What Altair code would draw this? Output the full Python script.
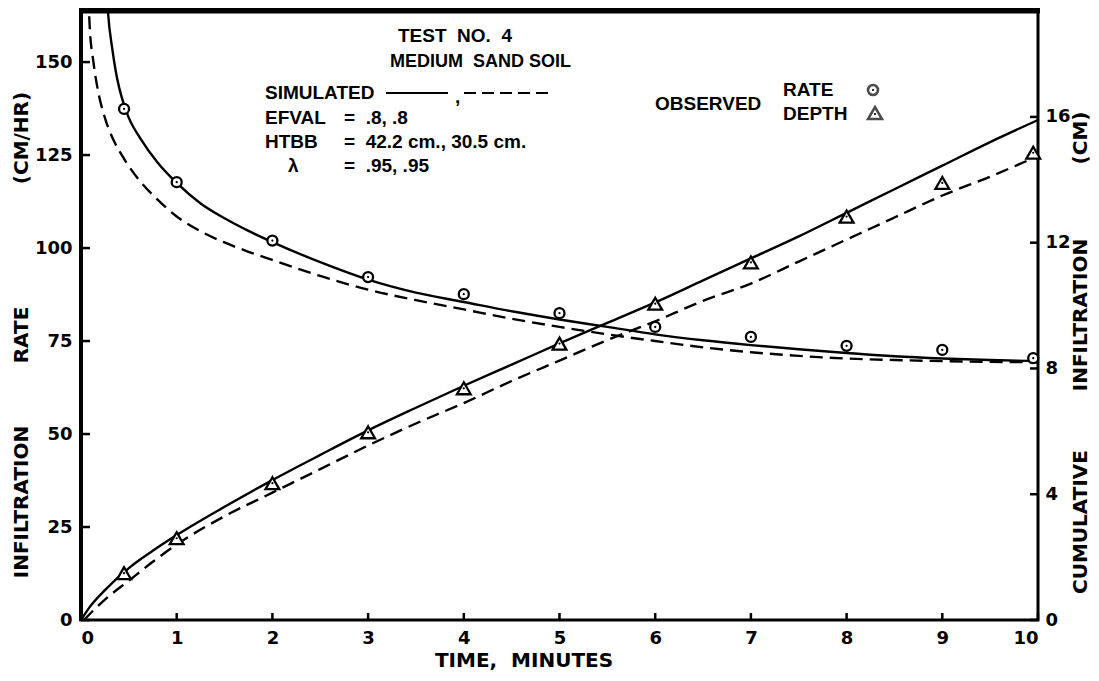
import altair as alt
import pandas as pd

# ---------------- data ----------------
# simulated infiltration rate (cm/hr), solid curve
rate_solid_t = [0.22, 0.25, 0.28, 0.33, 0.36, 0.40, 0.45, 0.50, 0.62, 0.80, 1.00, 1.25, 1.50, 1.75, 2.00, 2.50,
                3.00, 3.50, 4.00, 4.50, 5.00, 5.50, 6.00, 6.50, 7.00, 7.50, 8.00, 8.50, 9.00, 9.50, 10.0]
rate_solid_v = [200, 178, 164, 153, 148, 143, 138.5, 135, 129.5, 123, 117.5, 112, 108, 104.6, 101.6, 96.2,
                91.5, 88, 85.5, 83, 80.8, 78.8, 76.8, 75.2, 73.9, 72.8, 71.8, 70.9, 70.3, 69.9, 69.6]
# simulated infiltration rate, dashed curve
rate_dash_t = [0.05, 0.07, 0.09, 0.13, 0.18, 0.25, 0.35, 0.45, 0.60, 0.80, 1.00, 1.25, 1.50, 1.75,
               2.00, 2.50, 3.00, 3.50, 4.00, 4.50, 5.00, 5.50, 6.00, 6.50, 7.00, 7.50, 8.00, 8.50,
               9.00, 9.50, 10.0]
rate_dash_v = [200, 175, 160, 150, 142, 135, 128.5, 124, 118.5, 113, 108.5, 104.5, 101.5, 99,
               96.8, 92.5, 88.8, 86, 83.5, 81, 78.8, 76.8, 75, 73.3, 72, 71, 70.3, 69.9,
               69.6, 69.4, 69.3]
# simulated cumulative infiltration (cm), solid curve
depth_solid_t = [0.0, 0.10, 0.25, 0.50, 0.75, 1.00, 1.50, 2.00, 2.50, 3.00, 3.50, 4.00, 4.50, 5.00,
                 5.50, 6.00, 6.50, 7.00, 7.50, 8.00, 8.50, 9.00, 9.50, 10.0]
depth_solid_v = [0.0, 0.45, 0.95, 1.65, 2.2, 2.7, 3.6, 4.45, 5.25, 6.03, 6.75, 7.45, 8.12, 8.8,
                 9.45, 10.1, 10.8, 11.5, 12.2, 12.95, 13.7, 14.45, 15.2, 15.9]
# simulated cumulative infiltration, dashed curve
depth_dash_t = [0.03, 0.25, 0.50, 0.75, 1.00, 1.50, 2.00, 2.50, 3.00, 3.50, 4.00, 4.50, 5.00, 5.50,
                6.00, 6.50, 7.00, 7.50, 8.00, 8.50, 9.00, 9.50, 9.92]
depth_dash_v = [0.0, 0.65, 1.25, 1.85, 2.4, 3.3, 4.05, 4.8, 5.55, 6.25, 6.9, 7.6, 8.25, 8.9,
                9.5, 10.15, 10.7, 11.4, 12.1, 12.8, 13.5, 14.1, 14.65]
# observed points
obs_t = [0.45, 1, 2, 3, 4, 5, 6, 7, 8, 9, 9.95]
obs_rate = [137.4, 117.7, 102, 92.2, 87.6, 82.5, 78.8, 76.1, 73.7, 72.6, 70.4]
obs_depth = [1.49, 2.6, 4.35, 5.97, 7.37, 8.79, 10.06, 11.37, 12.83, 13.9, 14.86]
# axis ticks
x_ticks = [0, 1, 2, 3, 4, 5, 6, 7, 8, 9, 10]
rate_ticks = [0, 25, 50, 75, 100, 125, 150]
depth_ticks = [0, 4, 8, 12, 16]
RATE_MAX = 164
DEPTH_MAX = 19.4

# ---------------- chart ----------------
W, H = 957, 610
TICKFONT = "DejaVu Sans"
TXTFONT = "Liberation Sans"
NB = "\u00a0"

xscale = alt.Scale(domain=[0, 10], nice=False, zero=False)
rscale = alt.Scale(domain=[0, RATE_MAX], nice=False)
dscale = alt.Scale(domain=[0, DEPTH_MAX], nice=False)

xaxis = alt.Axis(values=x_ticks, title=None, grid=False, domain=False, ticks=False,
                 labelFont=TICKFONT, labelFontSize=18, labelFontWeight="bold",
                 labelColor="black", labelPadding=9, format="d")
laxis = alt.Axis(values=rate_ticks, title=None, grid=False, domain=False, ticks=False,
                 labelFont=TICKFONT, labelFontSize=18, labelFontWeight="bold",
                 labelColor="black", labelPadding=9, format="d")
raxis = alt.Axis(values=depth_ticks, title=None, grid=False, domain=False, ticks=False,
                 orient="right", labelFont=TICKFONT, labelFontSize=18, labelFontWeight="bold",
                 labelColor="black", labelPadding=7, format="d")

X = alt.X("t:Q", scale=xscale, axis=xaxis)
DASH = [13, 7]

df_rs = pd.DataFrame({"t": rate_solid_t, "v": rate_solid_v})
df_rd = pd.DataFrame({"t": rate_dash_t, "v": rate_dash_v})
df_ds = pd.DataFrame({"t": depth_solid_t, "v": depth_solid_v})
df_dd = pd.DataFrame({"t": depth_dash_t, "v": depth_dash_v})
df_or = pd.DataFrame({"t": obs_t, "v": obs_rate})
df_od = pd.DataFrame({"t": obs_t, "v": obs_depth})
df_xt = pd.DataFrame({"t": x_ticks})
df_rt = pd.DataFrame({"v": rate_ticks})
df_dt = pd.DataFrame({"v": depth_ticks})
dummy = pd.DataFrame({"a": [0]})

YR = alt.Y("v:Q", scale=rscale, axis=laxis)
YD = alt.Y("v:Q", scale=dscale, axis=raxis)

LINE = dict(color="black", strokeWidth=2.4, clip=True, interpolate="monotone")

rate_group = alt.layer(
    alt.Chart(df_rs).mark_line(**LINE).encode(x=X, y=YR),
    alt.Chart(df_rd).mark_line(strokeDash=DASH, **LINE).encode(x=X, y=YR),
    alt.Chart(df_or).mark_point(shape="circle", filled=False, size=100, strokeWidth=2.3,
                                color="black", fill="white", fillOpacity=1).encode(x=X, y=YR),
    alt.Chart(df_or).mark_point(shape="circle", filled=True, size=5, color="black", opacity=1).encode(x=X, y=YR),
    alt.Chart(df_xt).mark_rule(color="black", strokeWidth=2.5).encode(x=X, y=alt.value(H), y2=alt.value(H - 7)),
    alt.Chart(df_rt).mark_rule(color="black", strokeWidth=2.5).encode(y=YR, x=alt.value(0), x2=alt.value(9)),
)

depth_group = alt.layer(
    alt.Chart(df_ds).mark_line(**LINE).encode(x=X, y=YD),
    alt.Chart(df_dd).mark_line(strokeDash=DASH, **LINE).encode(x=X, y=YD),
    alt.Chart(df_od).mark_point(shape="triangle-up", filled=False, size=190, strokeWidth=2.3,
                                color="black", fill="white", fillOpacity=1).encode(x=X, y=YD),
    alt.Chart(df_od).mark_point(shape="circle", filled=True, size=5, color="black", opacity=1).encode(x=X, y=YD),
    alt.Chart(df_dt).mark_rule(color="black", strokeWidth=2.5).encode(y=YD, x=alt.value(W - 8), x2=alt.value(W)),
)


def txt(s, x, y, size=19, weight="bold", font=TXTFONT, align="left", angle=0):
    return alt.Chart(dummy).mark_text(
        text=s, align=align, baseline="middle", font=font, fontSize=size,
        fontWeight=weight, color="black", angle=angle
    ).encode(x=alt.value(x), y=alt.value(y))


texts = [
    # header block
    txt("TEST" + NB * 2 + "NO." + NB * 2 + "4", 317, 26),
    txt("MEDIUM" + NB * 2 + "SAND" + NB + "SOIL", 309, 52, size=18),
    txt("SIMULATED", 184, 83),
    txt(",", 374, 87),
    txt("EFVAL", 184, 108),
    txt("=" + NB + NB + ".8, .8", 263, 108),
    txt("HTBB", 184, 132),
    txt("=" + NB + NB + "42.2 cm., 30.5 cm.", 263, 132),
    txt("λ", 207, 156),
    txt("=" + NB + NB + ".95, .95", 263, 156),
    txt("OBSERVED", 574, 94),
    txt("RATE", 702, 80),
    txt("DEPTH", 702, 104),
    # axis titles
    txt("TIME," + NB + NB + "MINUTES", 443, 651, size=20, font=TICKFONT, align="center"),
    txt("INFILTRATION", -59, 492, size=20, font=TICKFONT, align="center", angle=270),
    txt("RATE", -59, 325, size=20, font=TICKFONT, align="center", angle=270),
    txt("(CM/HR)", -59, 128, size=20, font=TICKFONT, align="center", angle=270),
    txt("CUMULATIVE", 1000, 512, size=20, font=TICKFONT, align="center", angle=270),
    txt("INFILTRATION", 1000, 305, size=20, font=TICKFONT, align="center", angle=270),
    txt("(CM)", 1000, 128, size=20, font=TICKFONT, align="center", angle=270),
]

legend_marks = [
    # legend line samples
    alt.Chart(dummy).mark_rule(color="black", strokeWidth=2.2).encode(
        x=alt.value(305), x2=alt.value(367), y=alt.value(83)),
    alt.Chart(dummy).mark_rule(color="black", strokeWidth=2.2, strokeDash=[12, 6]).encode(
        x=alt.value(383), x2=alt.value(469), y=alt.value(83)),
    # observed markers in legend
    alt.Chart(dummy).mark_point(shape="circle", filled=False, size=100, strokeWidth=2.6, color="black").encode(
        x=alt.value(792), y=alt.value(80)),
    alt.Chart(dummy).mark_point(shape="circle", filled=True, size=5, color="black", opacity=1).encode(
        x=alt.value(792), y=alt.value(80)),
    alt.Chart(dummy).mark_point(shape="triangle-up", filled=False, size=190, strokeWidth=2.6, color="black").encode(
        x=alt.value(794), y=alt.value(103)),
    alt.Chart(dummy).mark_point(shape="circle", filled=True, size=5, color="black", opacity=1).encode(
        x=alt.value(794), y=alt.value(104)),
    # heavy top frame line
    alt.Chart(dummy).mark_rule(color="black", strokeWidth=7).encode(
        x=alt.value(-2), x2=alt.value(W + 2), y=alt.value(0)),
    # heavier left axis line
    alt.Chart(dummy).mark_rule(color="black", strokeWidth=4).encode(
        x=alt.value(0), y=alt.value(0), y2=alt.value(H + 1)),
]

chart = alt.layer(rate_group, depth_group, *texts, *legend_marks).resolve_scale(
    y="independent"
).properties(
    width=W, height=H,
    padding={"left": 73, "top": 2, "right": 53, "bottom": 53},
    autosize=alt.AutoSizeParams(type="none"),
    background="white",
).configure_view(stroke="black", strokeWidth=3)

chart.save("out.html", embed_options={"renderer": "svg", "actions": False})
